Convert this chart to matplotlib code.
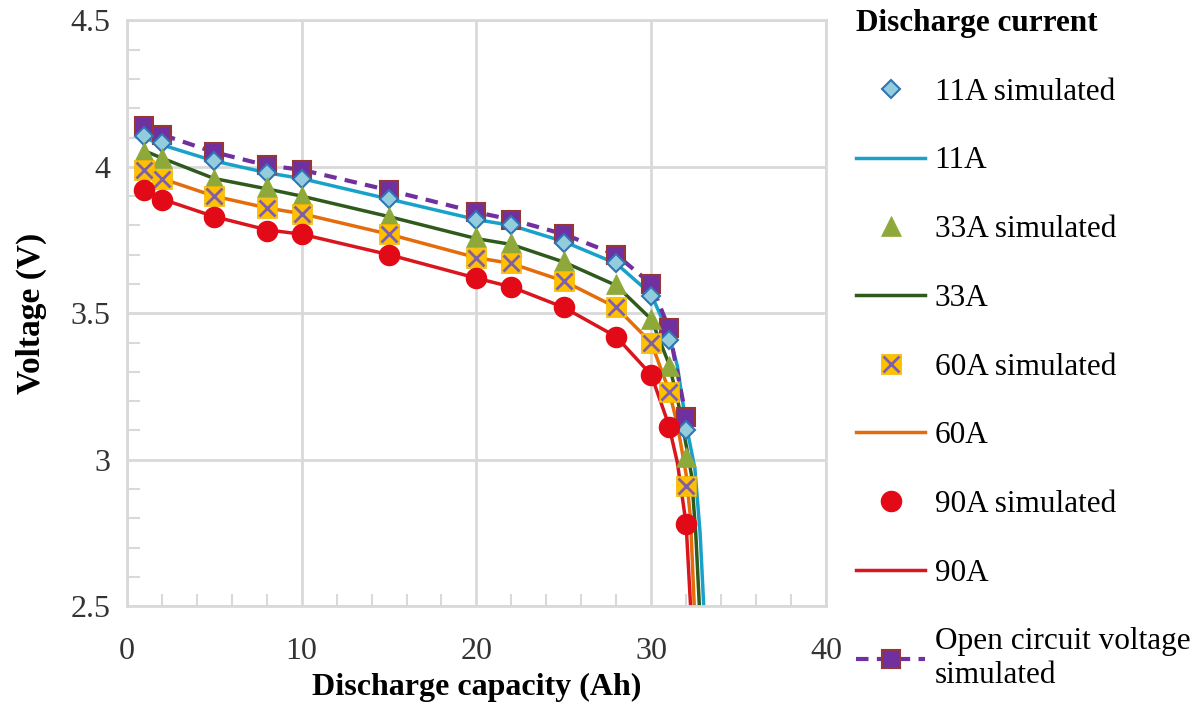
import matplotlib
matplotlib.use("Agg")
import matplotlib.pyplot as plt
from matplotlib.ticker import MultipleLocator

plt.rcParams['font.family'] = ['Liberation Serif', 'DejaVu Serif']

# simulated points (markers)
sim_x = [1, 2, 5, 8, 10, 15, 20, 22, 25, 28, 30, 31, 32]
ocv_sim = [4.14, 4.11, 4.05, 4.005, 3.99, 3.92, 3.845, 3.82, 3.77, 3.70, 3.60, 3.45, 3.145]
sim_11A = [4.107, 4.08, 4.02, 3.98, 3.96, 3.89, 3.82, 3.80, 3.74, 3.67, 3.56, 3.41, 3.10]
sim_33A = [4.05, 4.03, 3.96, 3.93, 3.90, 3.83, 3.76, 3.74, 3.68, 3.60, 3.48, 3.32, 3.01]
sim_60A = [3.99, 3.96, 3.90, 3.86, 3.84, 3.77, 3.69, 3.67, 3.61, 3.52, 3.40, 3.23, 2.91]
sim_90A = [3.92, 3.886, 3.83, 3.78, 3.77, 3.70, 3.62, 3.59, 3.52, 3.42, 3.29, 3.11, 2.78]

# measured curves
x_11A = [1, 2, 5, 8, 10, 15, 20, 22, 25, 28, 30, 31, 31.5, 32, 32.5, 32.8, 33.05]
v_11A = [4.10, 4.075, 4.02, 3.98, 3.96, 3.89, 3.82, 3.80, 3.745, 3.67, 3.565, 3.43, 3.32, 3.12, 2.97, 2.75, 2.45]
x_33A = [1, 2, 5, 8, 10, 15, 20, 22, 25, 28, 30, 31, 31.5, 32, 32.3, 32.55, 32.8]
v_33A = [4.055, 4.03, 3.96, 3.925, 3.90, 3.83, 3.755, 3.735, 3.675, 3.595, 3.48, 3.33, 3.21, 3.05, 2.95, 2.75, 2.45]
x_60A = [1, 2, 5, 8, 10, 15, 20, 22, 25, 28, 30, 31, 31.5, 32, 32.25, 32.5]
v_60A = [3.99, 3.96, 3.90, 3.86, 3.84, 3.77, 3.69, 3.67, 3.61, 3.52, 3.40, 3.24, 3.12, 2.95, 2.80, 2.45]
x_90A = [1, 2, 5, 8, 10, 15, 20, 22, 25, 28, 30, 31, 31.5, 32, 32.3]
v_90A = [3.92, 3.89, 3.83, 3.785, 3.77, 3.70, 3.62, 3.59, 3.52, 3.42, 3.29, 3.12, 2.99, 2.78, 2.45]

fig = plt.figure(figsize=(11.97, 7.04), dpi=100)
ax = fig.add_axes([0.106, 0.139, 0.584, 0.832])

grey = '#d9d9d9'

# lines
l11, = ax.plot(x_11A, v_11A, color='#18A2CA', lw=2.5, zorder=2)
l33, = ax.plot(x_33A, v_33A, color='#2E5A1C', lw=2.5, zorder=2)
l60, = ax.plot(x_60A, v_60A, color='#E46C0A', lw=2.5, zorder=2)
l90, = ax.plot(x_90A, v_90A, color='#D9151E', lw=2.5, zorder=2)
locv, = ax.plot(sim_x, ocv_sim, color='#7030A0', lw=3, ls=(0, (3, 2)),
                marker='s', ms=13, mfc='#7030A0', mec='#953735', mew=1.5, zorder=3)

# simulated markers
m11, = ax.plot(sim_x, sim_11A, ls='none', marker='D', ms=9.5, mfc='#93CDDD',
               mec='#2E75B6', mew=1.5, zorder=4)
m33, = ax.plot(sim_x, sim_33A, ls='none', marker='^', ms=14, mfc='#8EA93A',
               mec='#8EA93A', mew=0.5, zorder=5)
m60s, = ax.plot(sim_x, sim_60A, ls='none', marker='s', ms=14, mfc='#FFC000',
                mec='#F0B400', mew=0.5, zorder=6)
m60x, = ax.plot(sim_x, sim_60A, ls='none', marker='x', ms=12, mec='#7F5FA8',
                mew=2, zorder=7)
m90, = ax.plot(sim_x, sim_90A, ls='none', marker='o', ms=14.5, mfc='#E30A17',
               mec='#E30A17', zorder=8)

ax.set_xlim(0, 40)
ax.set_ylim(2.5, 4.5)
ax.xaxis.set_major_locator(MultipleLocator(10))
ax.xaxis.set_minor_locator(MultipleLocator(2))
ax.yaxis.set_minor_locator(MultipleLocator(0.1))
ax.set_yticks([2.5, 3, 3.5, 4, 4.5])
ax.set_yticklabels(['2.5', '3', '3.5', '4', '4.5'])
ax.tick_params(which='major', length=0, labelsize=23, labelcolor='#333333')
ax.tick_params(axis='y', which='major', pad=12)
ax.tick_params(axis='x', which='major', pad=22)
ax.tick_params(which='minor', direction='in', length=9, width=1.5, color=grey)
ax.grid(True, which='major', color=grey, lw=2, zorder=0)
for s in ax.spines.values():
    s.set_color(grey)
    s.set_linewidth(2)

ax.set_xlabel('Discharge capacity (Ah)', fontsize=23, fontweight='bold', labelpad=5)
ax.set_ylabel('Voltage (V)', fontsize=24, fontweight='bold', labelpad=17)

handles = [m11, l11, m33, l33, (m60s, m60x), l60, m90, l90, locv]
labels = ['11A simulated', '11A', '33A simulated', '33A', '60A simulated', '60A',
          '90A simulated', '90A', 'Open circuit voltage\nsimulated']
leg = fig.legend(handles, labels, loc='upper left', bbox_to_anchor=(0.692, 1.027),
                 frameon=False, fontsize=22.5, title='Discharge current',
                 title_fontproperties={'weight': 'bold', 'size': 22.5},
                 alignment='left', handlelength=2.2, labelspacing=1.27,
                 handletextpad=0.3, numpoints=1)

fig.savefig('out.png', dpi=100)
